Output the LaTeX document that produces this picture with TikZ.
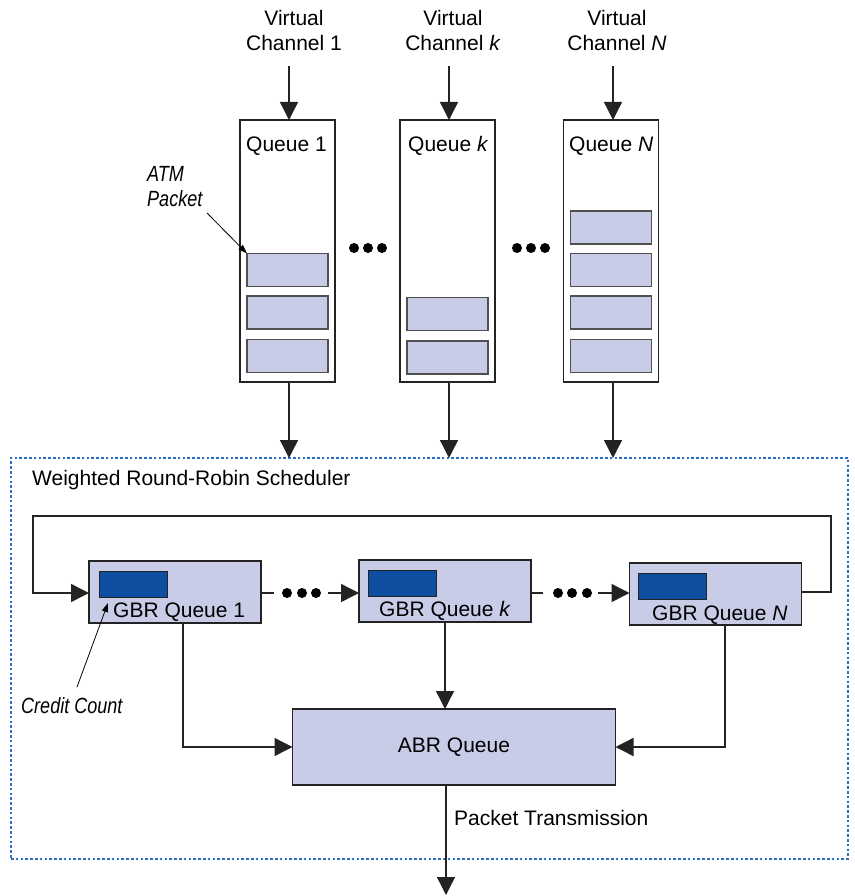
\documentclass[tikz,border=0pt]{standalone}
\usepackage{fontspec}
\setmainfont{Liberation Sans}
\newfontfamily\narrowfont[FakeStretch=0.82]{Liberation Sans}
\usetikzlibrary{arrows.meta}

\definecolor{pktfill}{RGB}{200,204,230}
\definecolor{creditblue}{RGB}{14,78,160}
\definecolor{edge}{RGB}{35,35,35}
\definecolor{pktedge}{RGB}{80,80,80}
\definecolor{frameblue}{RGB}{45,110,200}

\begin{document}
\begin{tikzpicture}[x=1pt,y=-1pt,
  font=\fontsize{21}{25}\selectfont,
  qbox/.style={draw=edge, line width=1.5pt, fill=white, inner sep=0pt, outer sep=0pt,
               minimum width=95pt, minimum height=262pt},
  pkt/.style={draw=pktedge, line width=1.2pt, fill=pktfill, inner sep=0pt, outer sep=0pt,
              minimum width=81pt, minimum height=33pt},
  gbr/.style={draw=edge, line width=1.5pt, fill=pktfill, inner sep=0pt, outer sep=0pt,
              minimum width=172pt, minimum height=62pt},
  abrbox/.style={draw=edge, line width=1.5pt, fill=pktfill, inner sep=0pt, outer sep=0pt,
              minimum width=323pt, minimum height=76pt},
  cnt/.style={draw=edge, line width=1pt, fill=creditblue, inner sep=0pt, outer sep=0pt,
              minimum width=68pt, minimum height=26pt},
  sched/.style={draw=frameblue, line width=1.5pt, dash pattern=on 2.6pt off 2.2pt,
              inner sep=0pt, outer sep=0pt, minimum width=837pt, minimum height=401pt},
  flow/.style={draw=edge, line width=1.4pt, -{Triangle[length=18pt,width=18pt]}},
  wire/.style={draw=edge, line width=1.4pt},
  note/.style={draw=black, line width=0.8pt, -{Triangle[length=9pt,width=6pt]}},
  dot/.style={circle, fill=black, minimum size=10pt, inner sep=0pt, outer sep=0pt},
  txt/.style={inner sep=0pt, anchor=base west},
  ntxt/.style={inner sep=0pt, font=\narrowfont\itshape\fontsize{22}{25}\selectfont},
]
\useasboundingbox (0,0) rectangle (854,896);

% ---------- virtual channels and their input queues ----------
\node[inner sep=0pt, anchor=north, align=center] (vc1) at (294,10) {Virtual\\Channel 1};
\node[inner sep=0pt, anchor=north, align=center] (vck) at (453,10) {Virtual\\Channel \textit{k}};
\node[inner sep=0pt, anchor=north, align=center] (vcN) at (617,10) {Virtual\\Channel \textit{N}};

\node[qbox] (q1) at (287.5,251) {};
\node[qbox] (qk) at (447.5,251) {};
\node[qbox] (qN) at (611,251) {};

\node[txt] (q1t) at (246,152) {Queue 1};
\node[txt] (qkt) at (408,152) {Queue \textit{k}};
\node[txt] (qNt) at (569,152) {Queue \textit{N}};

\coordinate (in1) at (289,66);
\coordinate (ink) at (449,66);
\coordinate (inN) at (613,66);
\draw[flow] (in1) -- (in1 |- q1.north);
\draw[flow] (ink) -- (ink |- qk.north);
\draw[flow] (inN) -- (inN |- qN.north);

% queued ATM packets
\node[pkt] (p11) at (287.5,270) {};
\node[pkt] (p12) at (287.5,312.5) {};
\node[pkt] (p13) at (287.5,356) {};
\node[pkt] (pk1) at (447.5,314) {};
\node[pkt] (pk2) at (447.5,357.5) {};
\node[pkt] (pN1) at (611,227.5) {};
\node[pkt] (pN2) at (611,270) {};
\node[pkt] (pN3) at (611,312.5) {};
\node[pkt] (pN4) at (611,356) {};

% ellipses between the queues
\node[dot] (ta1) at (354,248) {};
\node[dot] (ta2) at (368,248) {};
\node[dot] (ta3) at (382,248) {};
\node[dot] (tb1) at (517,248) {};
\node[dot] (tb2) at (531,248) {};
\node[dot] (tb3) at (545,248) {};

% ATM packet callout
\node[ntxt, anchor=north west, align=left] (atm) at (147,166) {ATM\\Packet};
\coordinate (atmtail) at (207,213);
\draw[note] (atmtail) -- (p11.north west);

% ---------- weighted round-robin scheduler ----------
\node[sched] (wrr) at (429.5,658.5) {};
\node[txt] (wrrt) at (32,485) {Weighted Round-Robin Scheduler};

\draw[flow] (q1.south -| in1) -- (in1 |- wrr.north);
\draw[flow] (qk.south -| ink) -- (ink |- wrr.north);
\draw[flow] (qN.south -| inN) -- (inN |- wrr.north);

\node[gbr] (g1) at (175,592) {};
\node[gbr] (gk) at (445,591) {};
\node[gbr] (gN) at (715.5,594) {};

\node[cnt] (c1) at (133,584) {};
\node[cnt] (ck) at (402,583) {};
\node[cnt] (cN) at (672.5,586.5) {};

\node[txt] (g1t) at (113,617) {GBR Queue 1};
\node[txt] (gkt) at (379,616) {GBR Queue \textit{k}};
\node[txt] (gNt) at (652,620) {GBR Queue \textit{N}};

% ellipses between GBR queues
\node[dot] (ga1) at (287,593) {};
\node[dot] (ga2) at (302,593) {};
\node[dot] (ga3) at (316,593) {};
\node[dot] (gb1) at (558,593) {};
\node[dot] (gb2) at (572,593) {};
\node[dot] (gb3) at (587,593) {};

\draw[wire, shorten >=8pt] (g1.east |- ga1) -- (ga1.west);
\draw[flow, shorten <=7pt] (ga3.east) -- (gk.west |- ga3);
\draw[wire, shorten >=10pt] (gk.east |- gb1) -- (gb1.west);
\draw[flow, shorten <=6pt] (gb3.east) -- (gN.west |- gb3);

% round-robin return path
\coordinate (loopNE) at (831,516);
\coordinate (loopNW) at (33,516);
\draw[flow] (gN.east |- 0,592) -| (loopNE) -- (loopNW) |- (g1.west |- 0,593);

% credit count callout
\node[ntxt, anchor=base west] (cc) at (21,713) {Credit Count};
\coordinate (cctail) at (77,687);
\draw[note] (cctail) -- (108,603);

% ---------- ABR queue ----------
\node[abrbox] (abr) at (454,747) {ABR Queue};

\draw[flow] ([xshift=8pt]g1.south) |- (abr.west);
\draw[flow] (gk.south) -- (gk.south |- abr.north);
\draw[flow] ([xshift=9.5pt]gN.south) |- (abr.east);

\coordinate (out) at (446,895);
\draw[flow] (abr.south -| out) -- (out);
\node[txt] (ptx) at (454,825) {Packet Transmission};
\end{tikzpicture}
\end{document}
